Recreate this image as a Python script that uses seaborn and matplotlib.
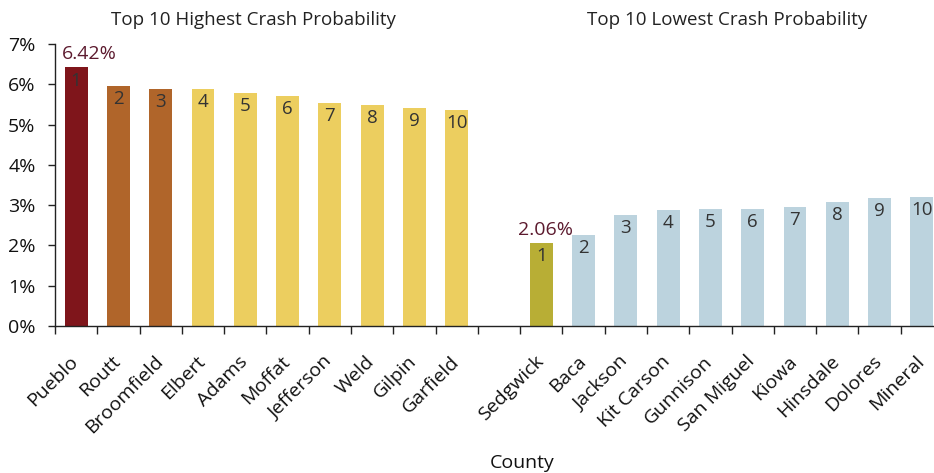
import matplotlib
matplotlib.use("Agg")
import matplotlib.pyplot as plt
import matplotlib.transforms as mtransforms
import numpy as np
import pandas as pd
import seaborn as sns
from matplotlib.ticker import PercentFormatter, FixedLocator

# data
high_counties = ["Pueblo", "Routt", "Broomfield", "Elbert", "Adams",
                 "Moffat", "Jefferson", "Weld", "Gilpin", "Garfield"]
high_values = [6.42, 5.96, 5.88, 5.88, 5.78, 5.71, 5.54, 5.49, 5.41, 5.36]

low_counties = ["Sedgwick", "Baca", "Jackson", "Kit Carson", "Gunnison",
                "San Miguel", "Kiowa", "Hinsdale", "Dolores", "Mineral"]
low_values = [2.06, 2.26, 2.76, 2.88, 2.90, 2.90, 2.95, 3.08, 3.18, 3.20]

ranks = list(range(1, 11))
group_titles = ["Top 10 Highest Crash Probability", "Top 10 Lowest Crash Probability"]

# colours
high_colors = ["#7f151b", "#b0652a", "#b0652a"] + ["#ecce5f"] * 7
low_colors = ["#b8ae35"] + ["#bcd3de"] * 9

sns.set_style("white")
plt.rcParams["font.family"] = ["Open Sans", "DejaVu Sans"]

gap = " "
order = high_counties + [gap] + low_counties
df = pd.DataFrame({
    "county": high_counties + low_counties,
    "prob": high_values + low_values,
    "rank": ranks + ranks,
})
palette = dict(zip(high_counties + low_counties, high_colors + low_colors))

fig = plt.figure(figsize=(9.34, 4.73), dpi=100)
ax = fig.add_axes([55 / 934, 147 / 473, 888 / 934, 282 / 473])

sns.barplot(data=df, x="county", y="prob", hue="county", order=order,
            hue_order=high_counties + low_counties, palette=palette,
            width=0.54, dodge=False, legend=False, saturation=1,
            linewidth=0, ax=ax)

ax.set_ylim(0, 7)
ax.set_xlim(-0.5, len(order) - 0.5)
ax.yaxis.set_major_formatter(PercentFormatter(xmax=100, decimals=0))
ax.set_yticks(np.arange(0, 8, 1))

# spines
sns.despine(ax=ax, top=True, right=True)
for side in ["left", "bottom"]:
    ax.spines[side].set_color("#222222")
    ax.spines[side].set_linewidth(1.0)

# x tick marks at slot boundaries, labels at bar centres
ax.xaxis.set_minor_locator(FixedLocator(np.arange(-0.5, len(order), 1.0)))
ax.tick_params(axis="x", which="minor", length=6, width=1, color="#222222", direction="out", bottom=True)
ax.tick_params(axis="x", which="major", length=0, pad=19, labelsize=14, labelcolor="#111111")
ax.tick_params(axis="y", which="major", length=5, width=1, color="#222222", direction="out",
               left=True, labelsize=14, labelcolor="#111111", pad=9)
shift = mtransforms.ScaledTranslation(-5 / 72, 0, fig.dpi_scale_trans)
for lab in ax.get_xticklabels():
    lab.set_rotation(45)
    lab.set_ha("right")
    lab.set_rotation_mode("anchor")
    lab.set_transform(lab.get_transform() + shift)

ax.set_ylabel("")
ax.set_xlabel("County", fontsize=14, color="#111111")
ax.xaxis.set_label_coords((522 - 55) / 888, (326 - 463) / 282)
ax.xaxis.label.set_va("center")

# rank numbers inside the bars
positions = {c: i for i, c in enumerate(order)}
for _, row in df.iterrows():
    ax.annotate(str(row["rank"]), (positions[row["county"]], row["prob"]),
                xytext=(0, -3), textcoords="offset points",
                ha="center", va="top", fontsize=13.5, color="#333333")

# value callouts for the extremes
ax.annotate(f"{high_values[0]:.2f}%", (positions[high_counties[0]], high_values[0]),
            xytext=(-10, 3), textcoords="offset points",
            ha="left", va="bottom", fontsize=14, color="#5c1a2e")
ax.annotate(f"{low_values[0]:.2f}%", (positions[low_counties[0]], low_values[0]),
            xytext=(3, 3), textcoords="offset points",
            ha="center", va="bottom", fontsize=14, color="#5c1a2e")

# group titles
ax.text(4.2, 1.085, group_titles[0], transform=ax.get_xaxis_transform(),
        ha="center", va="center", fontsize=13.5, color="#222222")
ax.text(15.4, 1.085, group_titles[1], transform=ax.get_xaxis_transform(),
        ha="center", va="center", fontsize=13.5, color="#222222")

fig.savefig("out.png", dpi=100)
